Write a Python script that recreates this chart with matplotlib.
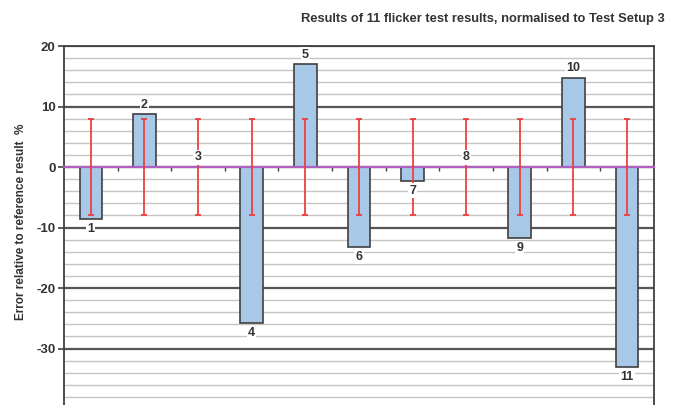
import numpy as np
import matplotlib.pyplot as plt
from matplotlib.ticker import MultipleLocator

plt.rcParams['font.family'] = ['Liberation Sans', 'DejaVu Sans']
plt.rcParams['axes.unicode_minus'] = False

# flicker test errors relative to the reference setup (%)
tests = [1, 2, 3, 4, 5, 6, 7, 8, 9, 10, 11]
errors = [-8.6, 8.7, 0.0, -25.8, 17.0, -13.3, -2.3, 0.0, -11.8, 14.7, -33.1]
tolerance = [8, 8, 8, 8, 8, 8, 8, 8, 8, 8, 8]

fig = plt.figure(figsize=(6.74, 4.05), dpi=100)
ax = fig.add_axes([0.095, -0.0099, 0.875, 0.8963])

x = np.arange(len(tests))
ax.set_xlim(-0.5, len(tests) - 0.5)
ax.set_ylim(-40, 20)

# grid: heavy every 10, light every 2
ax.yaxis.set_major_locator(MultipleLocator(10))
ax.yaxis.set_minor_locator(MultipleLocator(2))
ax.grid(which='minor', axis='y', color='#c4c4c4', lw=1.0, zorder=0)
ax.grid(which='major', axis='y', color='#555555', lw=1.6, zorder=0.5)
ax.set_axisbelow(True)

ax.bar(x, errors, width=0.42, color='#a8c8e8', edgecolor='#404040',
       linewidth=1.2, zorder=2)

ax.errorbar(x, np.zeros(len(x)), yerr=tolerance, fmt='none', ecolor='#ee4040',
            elinewidth=1.3, capsize=2.5, capthick=1.3, zorder=3)

# category axis sits on zero
ax.spines['bottom'].set_position(('data', 0))
ax.spines['bottom'].set_color('#b060c0')
ax.spines['bottom'].set_linewidth(1.6)
ax.spines['bottom'].set_zorder(2.5)
ax.set_xticks(np.arange(0.5, len(tests) - 1, 1.0))
ax.set_xticklabels([])
ax.tick_params(axis='x', length=3, width=1, color='#404040', direction='out')

for side in ['left', 'right', 'top']:
    ax.spines[side].set_color('#404040')
    ax.spines[side].set_linewidth(1.3)

ax.tick_params(axis='y', which='major', length=4, width=1.2, color='#404040',
               labelsize=9.5, pad=2)
ax.tick_params(axis='y', which='minor', length=0)
for lab in ax.get_yticklabels():
    lab.set_fontweight('bold')
    lab.set_color('#333333')

# test numbers above/below each bar
for xi, n, v in zip(x, tests, errors):
    if v >= 0:
        y, va = v + 0.6, 'bottom'
    else:
        y, va = v - 0.6, 'top'
    ax.text(xi, y, str(n), ha='center', va=va, fontsize=9, fontweight='bold',
            color='#333333', zorder=4,
            bbox=dict(facecolor='white', edgecolor='none', pad=0.8))

ax.set_ylabel('Error relative to reference result  %', fontsize=8.5,
              fontweight='bold', color='#333333')
ax.yaxis.set_label_coords(-0.062, 0.515)

fig.text(0.987, 0.953, 'Results of 11 flicker test results, normalised to Test Setup 3',
         ha='right', va='center', fontsize=9.3, fontweight='bold', color='#333333')

fig.savefig('out.png', dpi=100)
